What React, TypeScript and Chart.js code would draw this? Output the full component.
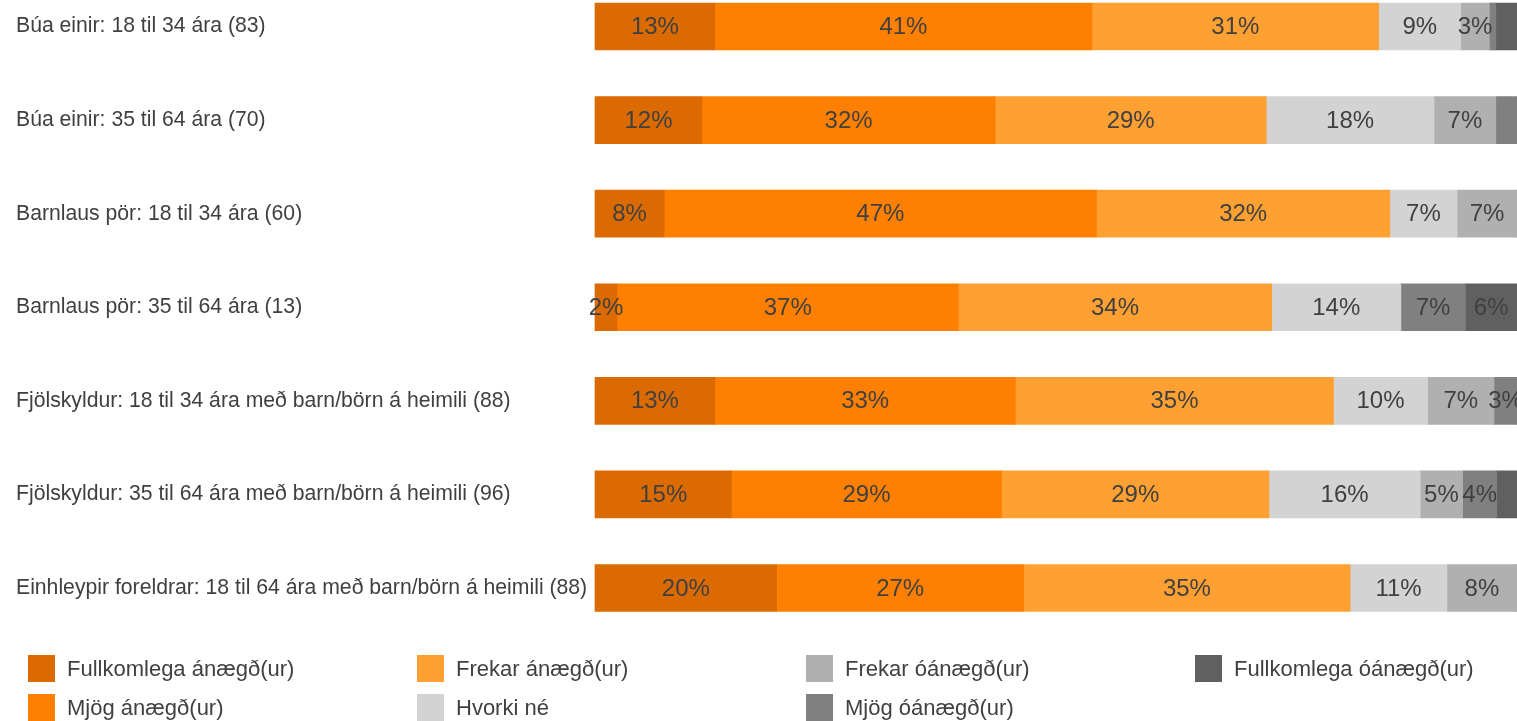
import React, { useEffect, useRef } from "react";
import { Chart, registerables } from "chart.js";

Chart.register(...registerables);

const categories = [
  "Búa einir: 18 til 34 ára (83)",
  "Búa einir: 35 til 64 ára (70)",
  "Barnlaus pör: 18 til 34 ára (60)",
  "Barnlaus pör: 35 til 64 ára (13)",
  "Fjölskyldur: 18 til 34 ára með barn/börn á heimili (88)",
  "Fjölskyldur: 35 til 64 ára með barn/börn á heimili (96)",
  "Einhleypir foreldrar: 18 til 64 ára með barn/börn á heimili (88)",
];

const seriesNames = [
  "Fullkomlega ánægð(ur)",
  "Mjög ánægð(ur)",
  "Frekar ánægð(ur)",
  "Hvorki né",
  "Frekar óánægð(ur)",
  "Mjög óánægð(ur)",
  "Fullkomlega óánægð(ur)",
];

const fullkomlegaAnaegd = [13, 11.6, 7.5, 2.4, 13, 14.8, 19.7];
const mjogAnaegd = [40.9, 31.8, 46.9, 37, 32.6, 29.3, 26.8];
const frekarAnaegd = [31.1, 29.4, 31.8, 34, 34.5, 29, 35.4];
const hvorkiNe = [8.9, 18.2, 7.3, 14, 10.2, 16.4, 10.5];
const frekarOanaegd = [3.1, 6.7, 6.5, 0, 7.2, 4.6, 7.6];
const mjogOanaegd = [0.7, 2.3, 0, 7, 2.5, 3.7, 0];
const fullkomlegaOanaegd = [2.3, 0, 0, 5.6, 0, 2.2, 0];

const seriesValues = [
  fullkomlegaAnaegd,
  mjogAnaegd,
  frekarAnaegd,
  hvorkiNe,
  frekarOanaegd,
  mjogOanaegd,
  fullkomlegaOanaegd,
];

const colors = ["#DB6A00", "#FF8000", "#FFA033", "#D3D3D3", "#B0B0B0", "#808080", "#606060"];

const FONT = "'Liberation Sans', Arial, sans-serif";
const TEXT = "#404040";

const barLabels = {
  id: "barLabels",
  afterDatasetsDraw(chart: any) {
    const ctx = chart.ctx;
    ctx.save();
    ctx.font = `24px ${FONT}`;
    ctx.fillStyle = TEXT;
    ctx.textAlign = "center";
    ctx.textBaseline = "middle";
    chart.data.datasets.forEach((ds: any, di: number) => {
      const meta = chart.getDatasetMeta(di);
      meta.data.forEach((el: any, i: number) => {
        const v = ds.data[i];
        if (v < 2.35) return;
        const { x, y, base } = el.getProps(["x", "y", "base"], true);
        ctx.fillText(`${Math.round(v)}%`, (x + base) / 2, y + 1);
      });
    });
    ctx.restore();
  },
};

const gridLegend = {
  id: "gridLegend",
  afterDraw(chart: any) {
    const ctx = chart.ctx;
    const colX = [28, 417, 806, 1195];
    const rowY = [655, 694];
    const size = 27;
    ctx.save();
    ctx.font = `22px ${FONT}`;
    ctx.textAlign = "left";
    ctx.textBaseline = "middle";
    seriesNames.forEach((name, i) => {
      const x = colX[Math.floor(i / 2)];
      const y = rowY[i % 2];
      ctx.fillStyle = colors[i];
      ctx.fillRect(x, y, size, size);
      ctx.fillStyle = TEXT;
      ctx.fillText(name, x + 39, y + size / 2 + 1);
    });
    ctx.restore();
  },
};

export default function App() {
  const ref = useRef<HTMLCanvasElement>(null);
  useEffect(() => {
    if (!ref.current) return;
    const chart = new Chart(ref.current, {
      type: "bar",
      data: {
        labels: categories,
        datasets: seriesNames.map((name, i) => ({
          label: name,
          data: seriesValues[i],
          backgroundColor: colors[i],
          borderWidth: 0,
          barThickness: 47,
          clip: false,
        })),
      },
      options: {
        indexAxis: "y",
        animation: false,
        responsive: false,
        layout: { padding: { top: 26.5, bottom: 133, left: 16, right: 0 } },
        plugins: {
          legend: { display: false },
          tooltip: { enabled: false },
        },
        scales: {
          x: {
            stacked: true,
            min: 0,
            max: 100,
            display: false,
          },
          y: {
            stacked: true,
            offset: false,
            grid: { display: false },
            border: { display: false },
            afterFit: (scale: any) => {
              scale.width = 579;
            },
            ticks: {
              crossAlign: "far",
              color: TEXT,
              font: { family: FONT, size: 21.2 },
            },
          },
        },
      },
      plugins: [barLabels, gridLegend],
    });
    return () => chart.destroy();
  }, []);
  return (
    <div style={{ position: "fixed", left: 0, top: 0, width: 1517, height: 721 }}>
      <canvas ref={ref} width={1517} height={721} style={{ display: "block" }} />
    </div>
  );
}
